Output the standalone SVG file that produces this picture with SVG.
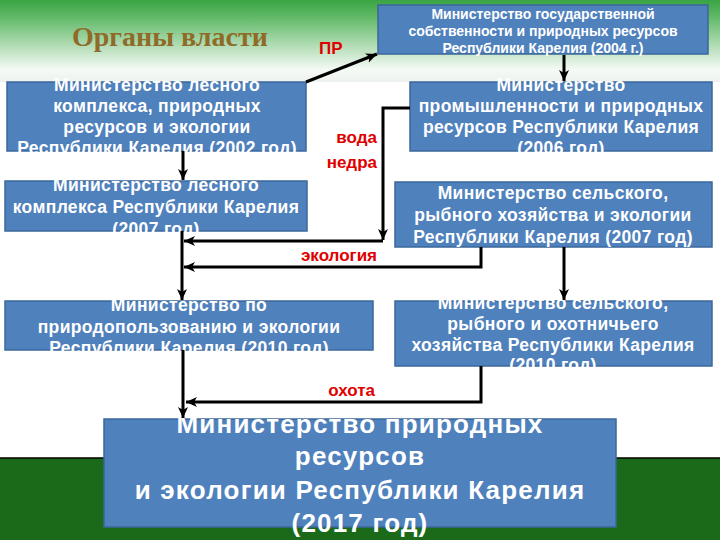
<svg xmlns="http://www.w3.org/2000/svg" width="720" height="540" viewBox="0 0 720 540">
<defs>
<linearGradient id="hdr" x1="0" y1="0" x2="0" y2="1">
<stop offset="0" stop-color="#39a444"/>
<stop offset="0.2" stop-color="#5fb866"/>
<stop offset="0.85" stop-color="#f5faf5"/>
<stop offset="1" stop-color="#eef2ee"/>
</linearGradient>
<marker id="ah" markerUnits="userSpaceOnUse" markerWidth="14" markerHeight="12" refX="11" refY="5" orient="auto">
<path d="M0,0 L11,5 L0,10 L3,5 Z" fill="#000"/>
</marker>
<style>
.box{fill:#4f81bd;stroke:#3b679b;stroke-width:1.5}
.t{font-family:"Liberation Sans",Arial,sans-serif;font-weight:bold;fill:#fff;text-anchor:middle}
.m{font-size:17.5px;letter-spacing:0.35px}
.s{font-size:14px}
.b{font-size:26px;letter-spacing:1.2px}
.lbl{font-family:"Liberation Sans",Arial,sans-serif;font-weight:bold;fill:#e00000;font-size:17px}
.c{fill:none;stroke:#000;stroke-width:3}
</style>
</defs>
<rect x="0" y="0" width="720" height="82" fill="url(#hdr)"/>
<rect x="0" y="82" width="720" height="376" fill="#fff"/>
<rect x="0" y="458" width="720" height="82" fill="#1a6a1a"/>
<line x1="0" y1="458" x2="720" y2="458" stroke="#000" stroke-width="1.5"/>
<text x="72" y="46" font-family="Liberation Serif,Times New Roman,serif" font-weight="bold" font-size="28" fill="#8f6b27">Органы власти</text>

<g id="n-gos2004">
<rect class="box" x="378" y="5" width="330" height="49"/>
<text class="t s"><tspan x="543" y="19">Министерство государственной</tspan><tspan x="543" y="36">собственности и природных ресурсов</tspan><tspan x="543" y="53">Республики Карелия (2004 г.)</tspan></text>
</g>
<g id="n-les2002">
<rect class="box" x="7" y="82" width="299" height="69"/>
<text class="t m"><tspan x="157" y="91">Министерство лесного</tspan><tspan x="157" y="112">комплекса, природных</tspan><tspan x="157" y="133">ресурсов и экологии</tspan><tspan x="157" y="154">Республики Карелия (2002 год)</tspan></text>
</g>
<g id="n-prom2006">
<rect class="box" x="410" y="82" width="302" height="69"/>
<text class="t m"><tspan x="561" y="91">Министерство</tspan><tspan x="561" y="112">промышленности и природных</tspan><tspan x="561" y="133">ресурсов Республики Карелия</tspan><tspan x="561" y="154">(2006 год)</tspan></text>
</g>
<g id="n-les2007">
<rect class="box" x="5" y="181" width="302" height="50"/>
<text class="t m"><tspan x="156" y="191">Министерство лесного</tspan><tspan x="156" y="213">комплекса Республики Карелия</tspan><tspan x="156" y="235">(2007 год)</tspan></text>
</g>
<g id="n-selsk2007">
<rect class="box" x="395" y="182" width="317" height="65"/>
<text class="t m"><tspan x="553" y="199">Министерство сельского,</tspan><tspan x="553" y="221">рыбного хозяйства и экологии</tspan><tspan x="553" y="243">Республики Карелия (2007 год)</tspan></text>
</g>
<g id="n-prir2010">
<rect class="box" x="5" y="301" width="368" height="49"/>
<text class="t m"><tspan x="189" y="311">Министерство по</tspan><tspan x="189" y="333">природопользованию и экологии</tspan><tspan x="189" y="354">Республики Карелия (2010 год)</tspan></text>
</g>
<g id="n-selsk2010">
<rect class="box" x="395" y="301" width="317" height="65"/>
<text class="t m"><tspan x="553" y="309">Министерство сельского,</tspan><tspan x="553" y="330">рыбного и охотничьего</tspan><tspan x="553" y="351">хозяйства Республики Карелия</tspan><tspan x="553" y="371">(2010 год)</tspan></text>
</g>
<g id="n-prir2017">
<rect class="box" x="104" y="419" width="512" height="108"/>
<text class="t b"><tspan x="360" y="433">Министерство природных</tspan><tspan x="360" y="465">ресурсов</tspan><tspan x="360" y="499">и экологии Республики Карелия</tspan><tspan x="360" y="532">(2017 год)</tspan></text>
</g>

<g id="connectors">
<path class="c" d="M306,82 L377,54" marker-end="url(#ah)" stroke-width="2.5"/>
<path class="c" d="M564,55 V81" marker-end="url(#ah)"/>
<path class="c" d="M183,151 V180" marker-end="url(#ah)"/>
<path class="c" d="M410,108 H383 V240" marker-end="url(#ah)"/>
<path class="c" d="M383,241 H184" marker-end="url(#ah)"/>
<path class="c" d="M481,247 V267 H184" marker-end="url(#ah)"/>
<path class="c" d="M564,247 V300" marker-end="url(#ah)"/>
<path class="c" d="M182,231 V300" marker-end="url(#ah)"/>
<path class="c" d="M183,350 V418" marker-end="url(#ah)"/>
<path class="c" d="M481,366 V402 H186" marker-end="url(#ah)"/>
</g>
<g id="labels">
<text class="lbl" x="319" y="54" font-size="16">ПР</text>
<text class="lbl" x="377" y="143" text-anchor="end">вода</text>
<text class="lbl" x="377" y="168" text-anchor="end">недра</text>
<text class="lbl" x="377" y="261" text-anchor="end">экология</text>
<text class="lbl" x="375" y="396" text-anchor="end">охота</text>
</g>
</svg>
